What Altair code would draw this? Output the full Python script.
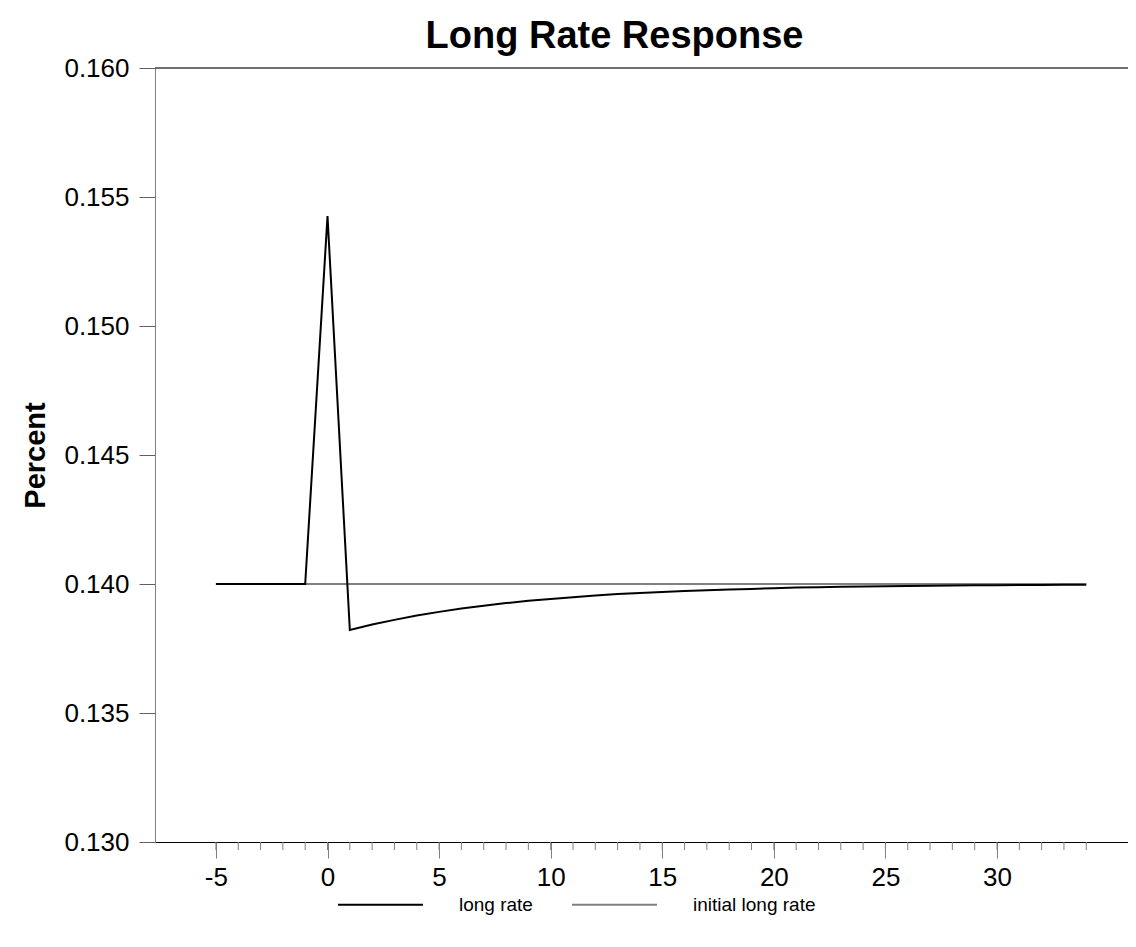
import altair as alt
import pandas as pd

# ---- data ----
periods = list(range(-5, 35))
long_rate = [
    0.14000, 0.14000, 0.14000, 0.14000, 0.14000,
    0.15426,
    0.13822, 0.13843, 0.13861, 0.13878, 0.13892,
    0.13905, 0.13916, 0.13926, 0.13935, 0.13942,
    0.13949, 0.13955, 0.13961, 0.13965, 0.13969,
    0.13973, 0.13976, 0.13979, 0.13981, 0.13984,
    0.13986, 0.13987, 0.13989, 0.13990, 0.13991,
    0.13992, 0.13993, 0.13994, 0.13995, 0.13995,
    0.13996, 0.13996, 0.13997, 0.13997,
]
initial_long_rate = [
    0.140, 0.140, 0.140, 0.140, 0.140, 0.140, 0.140, 0.140, 0.140, 0.140,
    0.140, 0.140, 0.140, 0.140, 0.140, 0.140, 0.140, 0.140, 0.140, 0.140,
    0.140, 0.140, 0.140, 0.140, 0.140, 0.140, 0.140, 0.140, 0.140, 0.140,
    0.140, 0.140, 0.140, 0.140, 0.140, 0.140, 0.140, 0.140, 0.140, 0.140,
]
series_names = ["long rate", "initial long rate"]
series_colors = ["#000000", "#808080"]
y_ticks = [0.130, 0.135, 0.140, 0.145, 0.150, 0.155, 0.160]
x_major_ticks = [-5, 0, 5, 10, 15, 20, 25, 30]
x_minor_ticks = list(range(-5, 35))

df = pd.DataFrame({
    "period": periods + periods,
    "value": long_rate + initial_long_rate,
    "series": [series_names[0]] * len(periods) + [series_names[1]] * len(periods),
})

W, H = 973, 774
FONT = "Liberation Sans"
x_scale = alt.Scale(domain=[-7.73, 35.87], nice=False, zero=False)
y_scale = alt.Scale(domain=[0.130, 0.160], nice=False, zero=False)

color = alt.Color(
    "series:N",
    scale=alt.Scale(domain=series_names, range=series_colors),
    legend=alt.Legend(
        title=None,
        orient="none",
        direction="horizontal",
        legendX=182,
        legendY=793,
        symbolType="stroke",
        symbolSize=7225,
        symbolStrokeWidth=2,
        labelFontSize=19,
        labelFont=FONT,
        labelColor="#000000",
        labelOffset=35,
        columnPadding=35,
        padding=0,
    ),
)

x_axis = alt.Axis(
    values=x_major_ticks,
    labelExpr="'' + datum.value",
    tickSize=16,
    tickColor="#808080",
    domainColor="#000000",
    labelFontSize=26,
    labelFont=FONT,
    labelColor="#000000",
    labelPadding=6,
    grid=False,
    title=None,
)
x_enc = alt.X("period:Q", scale=x_scale, axis=x_axis)
y_enc = alt.Y(
    "value:Q",
    scale=y_scale,
    axis=alt.Axis(
        values=y_ticks,
        format=".3f",
        tickSize=16,
        tickColor="#606060",
        domainColor="#808080",
        labelFontSize=26,
        labelFont=FONT,
        labelColor="#000000",
        labelPadding=10,
        grid=False,
        title="Percent",
        titleFont=FONT,
        titleFontSize=29,
        titleFontWeight="bold",
        titleColor="#000000",
        titlePadding=13,
    ),
)

base = alt.Chart(df)
gray_line = base.transform_filter(alt.datum.series == series_names[1]).mark_line(
    strokeWidth=2
).encode(x=x_enc, y=y_enc, color=color)
black_line = base.transform_filter(alt.datum.series == series_names[0]).mark_line(
    strokeWidth=2
).encode(x=x_enc, y=y_enc, color=color)

minor = alt.Chart(pd.DataFrame({"period": x_minor_ticks})).mark_rule(
    color="#808080", strokeWidth=1
).encode(
    x=x_enc,
    y=alt.value(H),
    y2=alt.value(H + 8),
)

top_line = alt.Chart(pd.DataFrame({"a": [0]})).mark_rule(
    color="#404040", strokeWidth=1.5
).encode(x=alt.value(0), x2=alt.value(W), y=alt.value(0))

chart = alt.layer(gray_line, black_line, minor, top_line).properties(
    width=W,
    height=H,
    autosize=alt.AutoSizeParams(type="none"),
    padding={"left": 147, "top": 60, "right": 0, "bottom": 90},
    title=alt.TitleParams(
        "Long Rate Response",
        font=FONT,
        fontSize=38,
        fontWeight="bold",
        color="#000000",
        anchor="middle",
        dx=-27,
        dy=4,
        offset=3,
    ),
).configure_view(stroke=None)

chart.save("out.html", embed_options={"renderer": "svg", "actions": False})
